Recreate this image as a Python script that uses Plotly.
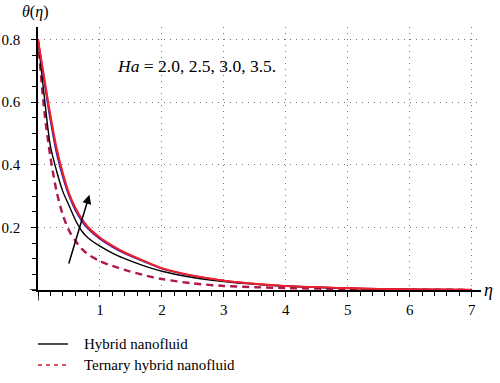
import plotly.graph_objects as go

eta = [0, 0.1, 0.2, 0.3, 0.4, 0.5, 0.6, 0.7, 0.8, 1.0, 1.2, 1.4, 1.7, 2.0, 2.5, 3.0, 3.5, 4.0, 5.0, 6.0, 7.0]
hyb_ha20 = [0.80, 0.62, 0.46, 0.38, 0.315, 0.27, 0.225, 0.19, 0.168, 0.140, 0.118, 0.100, 0.078, 0.060, 0.040, 0.027, 0.018, 0.012, 0.005, 0.002, 0.001]
hyb_ha25 = [0.80, 0.665, 0.54, 0.435, 0.36, 0.30, 0.255, 0.222, 0.196, 0.162, 0.137, 0.116, 0.091, 0.068, 0.045, 0.029, 0.019, 0.013, 0.006, 0.002, 0.001]
hyb_ha30 = [0.80, 0.675, 0.552, 0.447, 0.369, 0.306, 0.261, 0.227, 0.200, 0.165, 0.140, 0.118, 0.093, 0.069, 0.046, 0.030, 0.020, 0.013, 0.006, 0.002, 0.001]
hyb_ha35 = [0.80, 0.68, 0.56, 0.455, 0.375, 0.31, 0.265, 0.23, 0.203, 0.168, 0.142, 0.120, 0.094, 0.070, 0.046, 0.030, 0.020, 0.013, 0.006, 0.002, 0.001]
ter_all = [0.80, 0.575, 0.425, 0.315, 0.24, 0.19, 0.158, 0.133, 0.115, 0.092, 0.077, 0.064, 0.048, 0.035, 0.021, 0.013, 0.009, 0.006, 0.003, 0.001, 0.0005]

x_ticks = [1, 2, 3, 4, 5, 6, 7]
y_ticks = [0.2, 0.4, 0.6, 0.8]
y_tick_text = ["0.2", "0.4", "0.6", "0.8"]
legend_names = ["Hybrid nanofluid", "Ternary hybrid nanofluid"]

SERIF = "Liberation Serif"
TER_COLOR = "#b0184a"
SM = 0.8

fig = go.Figure()
fig.add_trace(go.Scatter(x=eta, y=ter_all, mode="lines", line=dict(color=TER_COLOR, width=2.4, dash="7px,5px", shape="spline", smoothing=SM),
                         name=legend_names[1], showlegend=False))
fig.add_trace(go.Scatter(x=eta, y=hyb_ha20, mode="lines", line=dict(color="black", width=1.4, shape="spline", smoothing=SM),
                         name=legend_names[0], showlegend=False))
fig.add_trace(go.Scatter(x=eta, y=hyb_ha25, mode="lines", line=dict(color="#2020d8", width=1.4, shape="spline", smoothing=SM),
                         showlegend=False))
fig.add_trace(go.Scatter(x=eta, y=hyb_ha30, mode="lines", line=dict(color="#c8143c", width=1.6, shape="spline", smoothing=SM),
                         showlegend=False))
fig.add_trace(go.Scatter(x=eta, y=hyb_ha35, mode="lines", line=dict(color="#ee2228", width=1.8, shape="spline", smoothing=SM),
                         showlegend=False))

grid = dict(showgrid=True, gridcolor="#777777", gridwidth=1, griddash="1px,5px")
fig.update_xaxes(range=[0, 7.15], tickvals=x_ticks, ticktext=[str(v) for v in x_ticks], automargin=False,
                 showline=True, linecolor="black", linewidth=1.5, ticks="outside", ticklen=5, tickcolor="black",
                 minor=dict(dtick=0.2, tick0=0, ticks="outside", ticklen=4, tickcolor="black", showgrid=False),
                 zeroline=False, tickfont=dict(family=SERIF, size=15, color="black"), **grid)
fig.update_yaxes(range=[0, 0.84], tickvals=y_ticks, ticktext=y_tick_text, automargin=False,
                 showline=True, linecolor="black", linewidth=1.5, ticks="outside", ticklen=5, tickcolor="black",
                 ticklabelstandoff=8,
                 minor=dict(dtick=0.05, tick0=0, ticks="outside", ticklen=4, tickcolor="black", showgrid=False),
                 zeroline=False, tickfont=dict(family=SERIF, size=15, color="black"), **grid)

# axis overhangs
fig.add_shape(type="line", xref="x", yref="paper", x0=0, x1=0, y0=0, y1=-0.04, line=dict(color="black", width=1.5))
fig.add_shape(type="line", xref="paper", yref="y", x0=0, x1=-0.018, y0=0, y1=0, line=dict(color="black", width=1.5))

# manual legend below the plot
leg_y = [-0.2053, -0.2852]
leg_styles = [dict(color="black", width=1.4), dict(color="#d0202a", width=1.4, dash="4px,4px")]
for name, ly, st in zip(legend_names, leg_y, leg_styles):
    fig.add_shape(type="line", xref="paper", yref="paper", x0=0.0, x1=0.0677, y0=ly, y1=ly, line=st)
    fig.add_annotation(x=0.0993, y=ly, xref="paper", yref="paper", xanchor="left", yanchor="middle", showarrow=False,
                       text=name, font=dict(family=SERIF, size=15, color="black"))

fig.add_annotation(x=0.83, y=0.304, ax=0.49, ay=0.08, xref="x", yref="y", axref="x", ayref="y",
                   showarrow=True, arrowhead=2, arrowsize=1.2, arrowwidth=1.5, arrowcolor="black", text="")
fig.add_annotation(x=1.24, y=0.715, xref="x", yref="y", xanchor="left", yanchor="middle", showarrow=False,
                   text="<i>Ha</i> = 2.0, 2.5, 3.0, 3.5.", font=dict(family=SERIF, size=17.5, color="black"))
fig.add_annotation(x=-0.006, y=1.0, xref="paper", yref="paper", yshift=15, xanchor="center", yanchor="middle", showarrow=False,
                   text="<i>θ</i>(<i>η</i>)", font=dict(family=SERIF, size=16, color="black"))
fig.add_annotation(x=1.0, y=0, xref="paper", yref="y", xshift=1, xanchor="left", yanchor="middle", showarrow=False,
                   text="<i>η</i>", font=dict(family=SERIF, size=18, color="black"))

fig.update_layout(width=500, height=383, margin=dict(l=38, r=19, t=27, b=93),
                  paper_bgcolor="white", plot_bgcolor="white", showlegend=False)

fig.write_html("out.html", config={"displayModeBar": False}, post_script="document.body.style.margin='0';")
